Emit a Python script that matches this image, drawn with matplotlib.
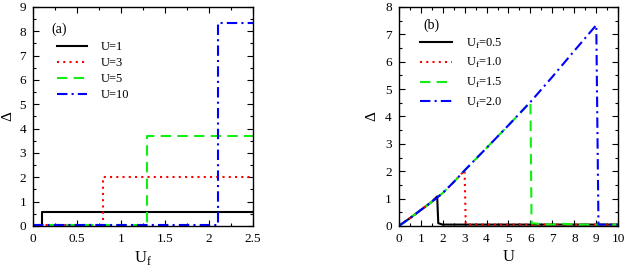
import matplotlib
matplotlib.use("Agg")
import matplotlib.pyplot as plt
from matplotlib.ticker import MultipleLocator, FormatStrFormatter

plt.rcParams['font.family'] = ['Liberation Serif', 'DejaVu Serif']
plt.rcParams['mathtext.fontset'] = 'custom'
plt.rcParams['mathtext.rm'] = 'Liberation Serif'

# panel (a): Delta vs U_f, one curve per U
uf_u1 = [0.0, 0.1, 0.1, 2.5]
d_u1 = [0.0, 0.0, 0.56, 0.56]
uf_u3 = [0.0, 0.8, 0.8, 2.5]
d_u3 = [0.05, 0.05, 2.0, 2.0]
uf_u5 = [0.0, 1.3, 1.3, 2.5]
d_u5 = [0.05, 0.05, 3.7, 3.7]
uf_u10 = [0.0, 2.1, 2.1, 2.5]
d_u10 = [0.05, 0.05, 8.35, 8.35]

# panel (b): Delta vs U, one curve per U_f
u_f05 = [0, 0.5, 1.0, 1.5, 1.75, 1.8, 2.0, 10]
d_f05 = [0, 0.28, 0.58, 0.88, 1.08, 0.1, 0.05, 0.05]
u_f10 = [0, 0.5, 1.0, 1.5, 2.0, 2.5, 3.0, 3.05, 10]
d_f10 = [0, 0.28, 0.58, 0.88, 1.2, 1.6, 2.03, 0.05, 0.05]
u_f15 = [0, 0.5, 1.0, 1.5, 2.0, 2.5, 3.0, 4.0, 5.0, 6.0, 6.05, 6.5, 7.0, 7.5, 8.0, 10]
d_f15 = [0, 0.28, 0.58, 0.88, 1.2, 1.6, 2.03, 2.85, 3.68, 4.53, 0.1, 0.07, 0.05, 0.08, 0.05, 0.05]
u_f20 = [0, 0.5, 1.0, 1.5, 2.0, 2.5, 3.0, 4.0, 5.0, 6.0, 7.0, 8.0, 9.0, 9.1, 10]
d_f20 = [0, 0.28, 0.58, 0.88, 1.2, 1.6, 2.03, 2.85, 3.68, 4.53, 5.45, 6.4, 7.34, 0.05, 0.05]

fig = plt.figure(figsize=(6.27, 2.69), dpi=100)
ax1 = fig.add_axes([0.0526, 0.160, 0.351, 0.814])
ax2 = fig.add_axes([0.636, 0.160, 0.350, 0.814])

lw = 1.5
green = '#11ee11'
ax1.plot(uf_u1, d_u1, color='black', lw=lw, label='U=1')
ax1.plot(uf_u3, d_u3, color='red', lw=lw, ls=(0, (1, 2)), label='U=3')
ax1.plot(uf_u5, d_u5, color=green, lw=lw, ls=(0, (5, 3)), label='U=5')
ax1.plot(uf_u10, d_u10, color='blue', lw=lw, ls=(0, (5, 2, 1, 2)), label='U=10')
ax1.set_xlim(0, 2.5)
ax1.set_ylim(0, 9)
ax1.xaxis.set_major_locator(MultipleLocator(0.5))
ax1.xaxis.set_minor_locator(MultipleLocator(0.25))
ax1.yaxis.set_major_locator(MultipleLocator(1))
ax1.yaxis.set_minor_locator(MultipleLocator(0.5))
ax1.xaxis.set_major_formatter(FormatStrFormatter('%g'))
ax1.set_xlabel(r'U$_{\rm f}$', fontsize=12, labelpad=3)
ax1.set_ylabel('Δ', fontsize=11, va='center')
ax1.yaxis.set_label_coords(-0.112, 0.5)
ax1.text(0.082, 0.90, '(a)', transform=ax1.transAxes, fontsize=10, va='center')
ax1.legend(loc='upper left', bbox_to_anchor=(0.11, 0.845), frameon=False,
           fontsize=9, handlelength=2.4, handletextpad=1.1, labelspacing=0.32,
           borderaxespad=0, borderpad=0)

ax2.plot(u_f05, d_f05, color='black', lw=lw, label=r'U$_{\rm f}$=0.5')
ax2.plot(u_f10, d_f10, color='red', lw=lw, ls=(0, (1, 2)), label=r'U$_{\rm f}$=1.0')
ax2.plot(u_f15, d_f15, color=green, lw=lw, ls=(0, (5, 3)), label=r'U$_{\rm f}$=1.5')
ax2.plot(u_f20, d_f20, color='blue', lw=lw, ls=(0, (5, 2, 1, 2)), label=r'U$_{\rm f}$=2.0')
ax2.set_xlim(0, 10)
ax2.set_ylim(0, 8)
ax2.xaxis.set_major_locator(MultipleLocator(1))
ax2.xaxis.set_minor_locator(MultipleLocator(0.5))
ax2.yaxis.set_major_locator(MultipleLocator(1))
ax2.yaxis.set_minor_locator(MultipleLocator(0.5))
ax2.set_xlabel('U', fontsize=12, labelpad=3)
ax2.set_ylabel('Δ', fontsize=11, va='center')
ax2.yaxis.set_label_coords(-0.123, 0.5)
ax2.text(0.11, 0.918, '(b)', transform=ax2.transAxes, fontsize=10, va='center')
ax2.legend(loc='upper left', bbox_to_anchor=(0.096, 0.865), frameon=False,
           fontsize=9, handlelength=2.6, handletextpad=1.1, labelspacing=0.45,
           borderaxespad=0, borderpad=0)

for ax in (ax1, ax2):
    ax.tick_params(which='both', direction='in', top=True, right=True, labelsize=9.5, pad=5)
    ax.tick_params(which='major', length=4.5, width=0.8)
    ax.tick_params(which='minor', length=2.5, width=0.8)
    for s in ax.spines.values():
        s.set_linewidth(1.0)

fig.savefig('out.png', dpi=100)
